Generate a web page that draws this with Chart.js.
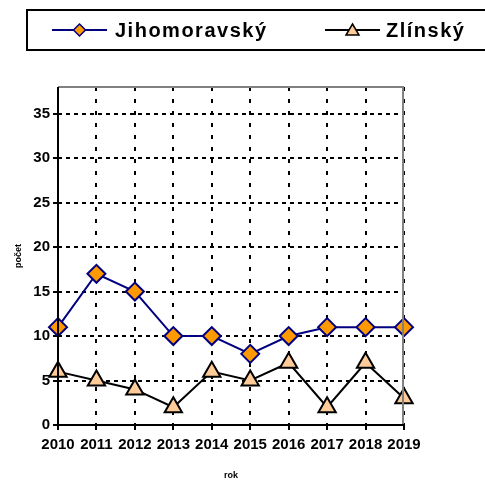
<!DOCTYPE html>
<html>
<head>
<meta charset="utf-8">
<script src="https://cdn.jsdelivr.net/npm/chart.js@4/dist/chart.umd.min.js"></script>
<style>
  html, body { margin: 0; padding: 0; background: #fff; }
  #wrap { width: 485px; height: 481px; }
</style>
</head>
<body>
<div id="wrap"><canvas id="chart" width="485" height="481"></canvas></div>
<script>
const years = ['2010', '2011', '2012', '2013', '2014', '2015', '2016', '2017', '2018', '2019'];
const jihomoravsky = [11, 17, 15, 10, 10, 8, 10, 11, 11, 11];
const zlinsky = [6, 5, 4, 2, 6, 5, 7, 2, 7, 3];
const yTicks = [0, 5, 10, 15, 20, 25, 30, 35];

const FONT = '"Liberation Sans", Arial, sans-serif';

// legend box at top + plot frame (gray top/right, black left/bottom)
const frameAndLegend = {
    id: 'frameAndLegend',
    afterDatasetsDraw(chart) {
        const { ctx, chartArea: a } = chart;
        ctx.save();
        ctx.lineWidth = 2;
        ctx.strokeStyle = '#808080';
        ctx.beginPath();
        ctx.moveTo(a.left, a.top);
        ctx.lineTo(a.right - 1, a.top);
        ctx.lineTo(a.right - 1, a.bottom);
        ctx.stroke();
        ctx.strokeStyle = '#000';
        ctx.beginPath();
        ctx.moveTo(a.left, a.top);
        ctx.lineTo(a.left, a.bottom);
        ctx.lineTo(a.right, a.bottom);
        ctx.stroke();
        ctx.restore();
    },
    afterDraw(chart) {
        const { ctx } = chart;
        ctx.save();
        ctx.lineWidth = 2;
        ctx.strokeStyle = '#000';
        ctx.strokeRect(27, 10, 470, 40);

        const items = [
            { ds: chart.data.datasets[0], x0: 52, x1: 107, tx: 115 },
            { ds: chart.data.datasets[1], x0: 325, x1: 380, tx: 386 }
        ];
        const y = 30;
        items.forEach(it => {
            ctx.lineWidth = 2;
            ctx.strokeStyle = it.ds.borderColor;
            ctx.beginPath();
            ctx.moveTo(it.x0, y);
            ctx.lineTo(it.x1, y);
            ctx.stroke();
            const cx = (it.x0 + it.x1) / 2;
            ctx.fillStyle = it.ds.pointBackgroundColor;
            ctx.strokeStyle = it.ds.pointBorderColor;
            ctx.lineWidth = 1.5;
            ctx.beginPath();
            if (it.ds.pointStyle === 'rectRot') {
                ctx.moveTo(cx, y - 6);
                ctx.lineTo(cx + 6, y);
                ctx.lineTo(cx, y + 6);
                ctx.lineTo(cx - 6, y);
            } else {
                ctx.moveTo(cx, y - 6);
                ctx.lineTo(cx + 6.5, y + 5);
                ctx.lineTo(cx - 6.5, y + 5);
            }
            ctx.closePath();
            ctx.fill();
            ctx.stroke();
            ctx.fillStyle = '#000';
            ctx.font = 'bold 20px ' + FONT;
            ctx.letterSpacing = '1.5px';
            ctx.textBaseline = 'middle';
            ctx.fillText(it.ds.label, it.tx, y + 1);
        });
        ctx.restore();
    }
};

new Chart(document.getElementById('chart'), {
    type: 'line',
    data: {
        labels: years,
        datasets: [
            {
                label: 'Jihomoravský',
                data: jihomoravsky,
                borderColor: '#000080',
                borderWidth: 2,
                pointStyle: 'rectRot',
                pointRadius: 9,
                pointBackgroundColor: '#FF9900',
                pointBorderColor: '#000080',
                pointBorderWidth: 2,
                tension: 0
            },
            {
                label: 'Zlínský',
                data: zlinsky,
                borderColor: '#000000',
                borderWidth: 2,
                pointStyle: 'triangle',
                pointRadius: 10,
                pointBackgroundColor: '#FFCC99',
                pointBorderColor: '#000000',
                pointBorderWidth: 2,
                tension: 0
            }
        ]
    },
    options: {
        responsive: false,
        animation: false,
        layout: { padding: { left: 0, top: 87, right: 81, bottom: 0 } },
        plugins: { legend: { display: false }, tooltip: { enabled: false } },
        scales: {
            x: {
                offset: false,
                afterFit: (s) => { s.height = 56; },
                grid: {
                    color: '#000',
                    lineWidth: 2,
                    tickLength: 5,
                    tickColor: '#000',
                    tickBorderDash: [],
                    drawOnChartArea: true
                },
                border: { display: false, dash: [4, 8] },
                ticks: {
                    color: '#000',
                    font: { family: FONT, size: 15, weight: 'bold' },
                    padding: 6,
                    maxRotation: 0,
                    autoSkip: false
                },
                title: {
                    display: true,
                    text: 'rok',
                    color: '#000',
                    font: { family: FONT, size: 9, weight: 'bold' },
                    padding: { top: 0, bottom: 0 }
                }
            },
            y: {
                min: 0,
                max: 38,
                afterFit: (s) => { s.width = 58; },
                afterBuildTicks: (s) => { s.ticks = yTicks.map(v => ({ value: v })); },
                grid: {
                    color: '#000',
                    lineWidth: 2,
                    tickLength: 5,
                    tickColor: '#000',
                    tickBorderDash: []
                },
                border: { display: false, dash: [4, 4] },
                ticks: {
                    color: '#000',
                    font: { family: FONT, size: 15, weight: 'bold' },
                    padding: 3
                },
                title: {
                    display: true,
                    text: 'počet',
                    color: '#000',
                    font: { family: FONT, size: 9, weight: 'bold' },
                    padding: { top: 13, bottom: 0 }
                }
            }
        }
    },
    plugins: [frameAndLegend]
});
</script>
</body>
</html>
